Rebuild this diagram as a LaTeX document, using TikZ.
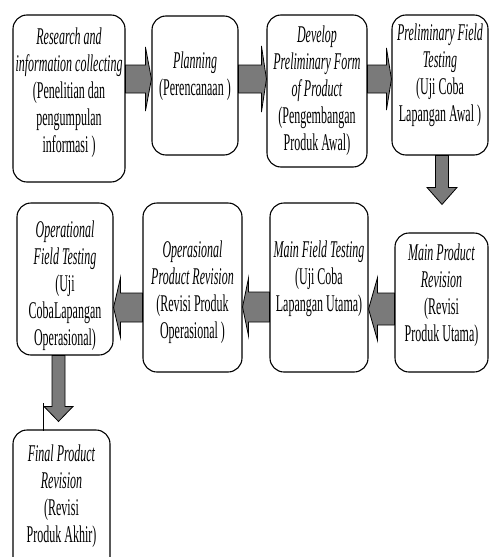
\documentclass[tikz,border=0pt]{standalone}
\usepackage{fontspec}
\usepackage{graphicx}
\setmainfont{Liberation Serif}
\usetikzlibrary{calc}
\newcommand\tx[1]{\scalebox{0.5}[1]{\begin{tabular}{@{}c@{}}#1\end{tabular}}}
\newcommand\itx[1]{\textit{#1}}
% right arrow: from, to, ycenter, shaft half, head half, head length
\newcommand\rarr[6]{\draw[blockarrow] let \p1=(#1.east), \p2=(#2.west) in
  (\x1,#3+#4) -- (\x2-#6,#3+#4) -- (\x2-#6,#3+#5) -- (\x2,#3) -- (\x2-#6,#3-#5) -- (\x2-#6,#3-#4) -- (\x1,#3-#4) -- cycle;}
\newcommand\larr[6]{\draw[blockarrow] let \p1=(#1.west), \p2=(#2.east) in
  (\x1,#3+#4) -- (\x2+#6,#3+#4) -- (\x2+#6,#3+#5) -- (\x2,#3) -- (\x2+#6,#3-#5) -- (\x2+#6,#3-#4) -- (\x1,#3-#4) -- cycle;}
% down arrow: from, to, xcenter, shaft half, head half, head length, gap
\newcommand\darr[7]{\draw[blockarrow] let \p1=(#1.south), \p2=(#2.north) in
  (#3-#4,\y1) -- (#3-#4,\y2+#7+#6) -- (#3-#5,\y2+#7+#6) -- (#3,\y2+#7) -- (#3+#5,\y2+#7+#6) -- (#3+#4,\y2+#7+#6) -- (#3+#4,\y1) -- cycle;}
\tikzset{
  box/.style={draw=black, line width=1.1pt, rounded corners=14pt, inner sep=0pt, fill=white},
  txt/.style={inner sep=0pt, font=\fontsize{24}{27}\selectfont},
  blockarrow/.style={draw=black, line width=0.8pt, fill=black!52},
}
\begin{document}
\begin{tikzpicture}[x=1pt,y=1pt]
\useasboundingbox (0,0) rectangle (489,-557);
\clip (0,0) rectangle (489,-557);
% boxes
\node[box, minimum width=112pt, minimum height=167pt] (b1) at (69,-98.5) {};
\node[box, minimum width=86pt, minimum height=139pt] (b2) at (195,-85.5) {};
\node[box, minimum width=100pt, minimum height=152pt] (b3) at (317,-91) {};
\node[box, minimum width=96pt, minimum height=140pt] (b4) at (440,-85) {};
\node[box, minimum width=93pt, minimum height=139pt] (b5) at (441.5,-302.5) {};
\node[box, minimum width=98pt, minimum height=169pt] (b6) at (319,-287.5) {};
\node[box, minimum width=99pt, minimum height=169pt] (b7) at (192.5,-287.5) {};
\node[box, minimum width=96pt, minimum height=152pt] (b8) at (65,-279) {};
\node[box, minimum width=97pt, minimum height=170pt] (b9) at (61.5,-515) {};
% texts
\node[txt] (t1) at (69,-93) {\tx{\itx{Research and}\\ \itx{information collecting}\\ (Penelitian dan\\ pengumpulan\\ informasi )}};
\node[txt] (t2) at (195,-77) {\tx{\itx{Planning}\\ (Perencanaan )}};
\node[txt] (t3) at (317,-91) {\tx{\itx{Develop}\\ \itx{Preliminary Form}\\ \itx{of Product}\\ (Pengembangan\\ Produk Awal)}};
\node[txt] (t4) at (440,-76) {\tx{\itx{Preliminary Field}\\ \itx{Testing}\\ (Uji Coba\\ Lapangan Awal )}};
\node[txt] (t5) at (441.5,-296) {\tx{\itx{Main Product}\\ \itx{Revision}\\ (Revisi\\ Produk Utama)}};
\node[txt] (t6) at (319,-279) {\tx{\itx{Main Field Testing}\\ (Uji Coba\\ Lapangan Utama)}};
\node[txt] (t7) at (192.5,-293) {\tx{\itx{Operasional}\\ \itx{Product Revision}\\ (Revisi Produk\\ Operasional )}};
\node[txt] (t8) at (65,-286) {\tx{\itx{Operational}\\ \itx{Field Testing}\\ (Uji\\ CobaLapangan\\ Operasional)}};
\node[txt] (t9) at (61.5,-497) {\tx{\itx{Final Product}\\ \itx{Revision}\\ (Revisi\\ Produk Akhir)}};
% arrows
\rarr{b1}{b2}{-79}{14}{32}{6}
\rarr{b2}{b3}{-79}{14}{33}{5}
\rarr{b3}{b4}{-79}{14}{31}{5}
\darr{b4}{b5}{442}{6.5}{15}{17}{28}
\larr{b5}{b6}{-309}{16}{31.5}{9}
\larr{b6}{b7}{-307}{15}{29}{6}
\larr{b7}{b8}{-307.5}{14.5}{30}{7}
\darr{b8}{b9}{58.5}{6.5}{14.5}{15}{8}
% stray thin line
\coordinate (s1) at (43,-403);
\draw[line width=0.6pt] (s1) -- ($(s1 |- b9.north)+(0,-2)$);
\end{tikzpicture}
\end{document}
